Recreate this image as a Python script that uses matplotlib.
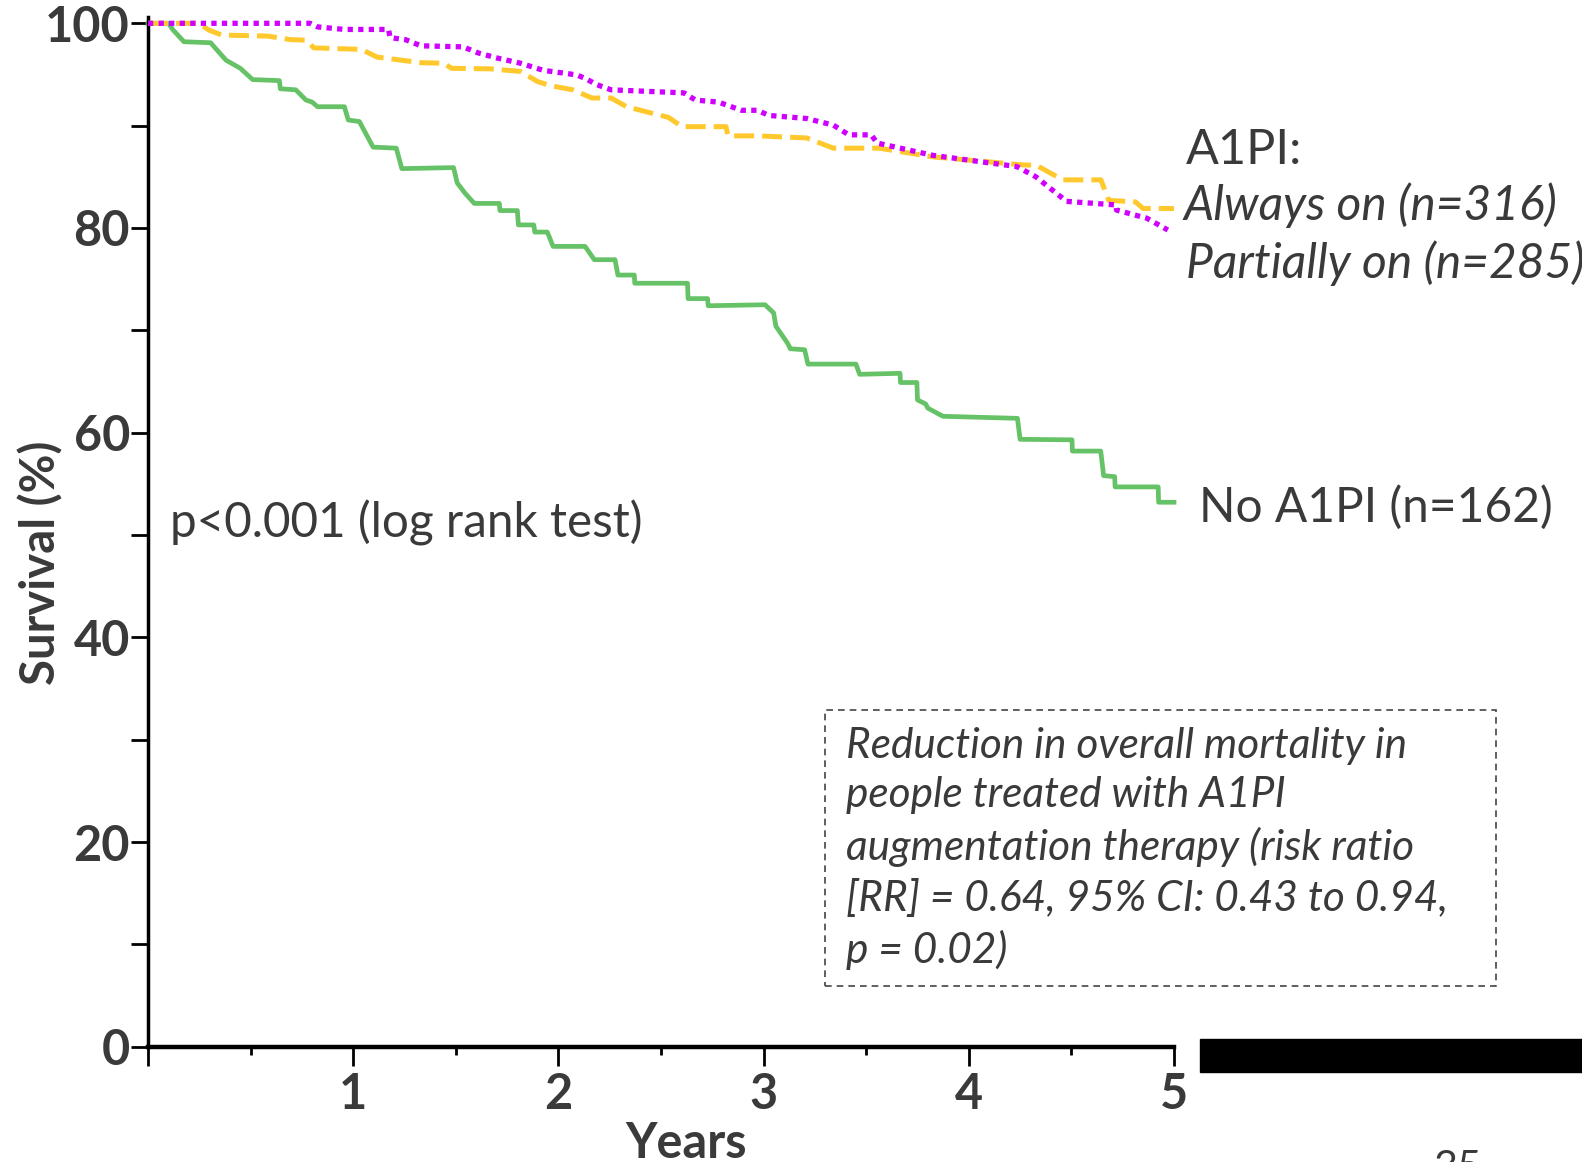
import matplotlib
matplotlib.use('Agg')
import matplotlib.pyplot as plt
from matplotlib.patches import Rectangle
from matplotlib.ticker import FixedLocator, FixedFormatter

plt.rcParams['font.family'] = ['Lato', 'DejaVu Sans']

# Kaplan-Meier curves (years, survival %)
no_t = [0, 0.10, 0.12, 0.175, 0.305, 0.38, 0.45, 0.51, 0.64, 0.645, 0.72, 0.77, 0.80, 0.826,
        0.957, 0.976, 1.03, 1.097, 1.21, 1.237, 1.489, 1.507, 1.545, 1.59, 1.712, 1.715, 1.80,
        1.805, 1.88, 1.885, 1.946, 1.974, 2.13, 2.175, 2.276, 2.29, 2.37, 2.372, 2.629, 2.632,
        2.727, 2.73, 3.007, 3.049, 3.06, 3.118, 3.13, 3.2, 3.216, 3.45, 3.468, 3.665, 3.667,
        3.747, 3.75, 3.79, 3.80, 3.874, 4.237, 4.25, 4.503, 4.505, 4.643, 4.657, 4.711, 4.713,
        4.923, 4.925, 5.0]
no_s = [100, 100, 99.4, 98.2, 98.1, 96.4, 95.6, 94.5, 94.4, 93.6, 93.5, 92.5, 92.3, 91.85,
        91.85, 90.55, 90.4, 87.9, 87.8, 85.8, 85.9, 84.4, 83.4, 82.4, 82.4, 81.7, 81.7,
        80.3, 80.3, 79.6, 79.6, 78.2, 78.2, 76.9, 76.9, 75.4, 75.4, 74.6, 74.6, 73.1,
        73.1, 72.4, 72.5, 71.7, 70.4, 68.7, 68.2, 68.1, 66.7, 66.7, 65.7, 65.8, 64.9,
        64.9, 63.2, 62.8, 62.4, 61.6, 61.4, 59.35, 59.3, 58.2, 58.2, 55.8, 55.7, 54.7,
        54.7, 53.2, 53.2]

always_t = [0, 0.249, 0.295, 0.36, 0.584, 0.696, 0.771, 0.808, 1.04, 1.116, 1.33, 1.44, 1.48,
            1.666, 1.815, 1.899, 1.963, 2.07, 2.163, 2.257, 2.332, 2.537, 2.602, 2.817, 2.826,
            2.97, 3.209, 3.34, 3.562, 3.824, 4.272, 4.327, 4.458, 4.644, 4.682, 4.812, 4.85, 5.0]
always_s = [100, 100, 99.35, 98.85, 98.75, 98.4, 98.35, 97.6, 97.45, 96.7, 96.15, 96.1, 95.6,
            95.55, 95.3, 94.3, 93.9, 93.5, 92.7, 92.7, 91.85, 90.8, 89.9, 89.9, 89.0,
            89.0, 88.8, 87.8, 87.8, 86.95, 86.15, 86.15, 84.7, 84.7, 82.7, 82.55, 81.9, 81.9]

partial_t = [0, 0.79, 0.826, 0.957, 1.172, 1.18, 1.255, 1.33, 1.535, 1.61, 1.703, 1.815, 1.927,
             2.039, 2.09, 2.132, 2.188, 2.257, 2.612, 2.668, 2.78, 2.892, 2.97, 3.025, 3.209,
             3.34, 3.415, 3.525, 3.553, 3.824, 4.234, 4.327, 4.476, 4.718, 4.72, 4.868, 4.97]
partial_s = [100, 100, 99.65, 99.4, 99.4, 98.6, 98.4, 97.8, 97.7, 97.1, 96.6, 96.1, 95.4,
             95.1, 94.95, 94.6, 94.0, 93.5, 93.2, 92.5, 92.3, 91.5, 91.5, 91.0, 90.7,
             90.05, 89.1, 89.1, 88.3, 87.1, 86.0, 85.0, 82.6, 82.25, 81.75, 80.95, 79.8]

y_ticks = [0, 10, 20, 30, 40, 50, 60, 70, 80, 90, 100]
y_labels = ['0', '', '20', '', '40', '', '60', '', '80', '', '100']
x_ticks = [0, 1, 2, 3, 4, 5]
x_labels = ['', '1', '2', '3', '4', '5']
x_minor = [0.5, 1.5, 2.5, 3.5, 4.5]

W, H = 1582, 1162
fig = plt.figure(figsize=(W / 100, H / 100), dpi=100)
ax = fig.add_axes([148 / W, 1 - 1046.7 / H, 1026 / W, 1023.4 / H])

txt = '#3a3a3a'
green = '#66c266'
yellow = '#ffc92e'
magenta = '#d000ff'

# green goes under the others (its start at 100% is hidden in the original)
ax.plot(no_t, no_s, color=green, lw=3.4, clip_on=False, zorder=2)
ax.plot(always_t, always_s, color=yellow, lw=3.6, dashes=(4, 1.6), clip_on=False, zorder=3)
ax.plot(partial_t, partial_s, color=magenta, lw=3.8, dashes=(1, 1.0), clip_on=False, zorder=4)

ax.set_xlim(0, 5)
ax.set_ylim(0, 100)

for s in ['top', 'right']:
    ax.spines[s].set_visible(False)
ax.spines['left'].set_linewidth(2.5)
ax.spines['left'].set_bounds(0, 100.6)
ax.spines['bottom'].set_linewidth(3.2)

ax.yaxis.set_major_locator(FixedLocator(y_ticks))
ax.yaxis.set_major_formatter(FixedFormatter(y_labels))
ax.xaxis.set_major_locator(FixedLocator(x_ticks))
ax.xaxis.set_major_formatter(FixedFormatter(x_labels))
ax.xaxis.set_minor_locator(FixedLocator(x_minor))

ax.tick_params(axis='y', length=12, width=2, pad=1, labelsize=35, labelcolor=txt)
ax.tick_params(axis='x', which='major', length=14, width=2, pad=4, labelsize=35, labelcolor=txt)
ax.tick_params(axis='x', which='minor', length=6, width=2)
for lab in ax.get_xticklabels() + ax.get_yticklabels():
    lab.set_fontweight('bold')

fig.text(41 / W, 1 - 563 / H, 'Survival (%)', rotation=90, ha='center', va='center',
         fontsize=34, fontweight='bold', color=txt)
fig.text(686 / W, 1 - 1158 / H, 'Years', ha='center', va='baseline',
         fontsize=35, fontweight='bold', color=txt)

fig.text(170 / W, 1 - 537 / H, 'p<0.001 (log rank test)', ha='left', va='baseline',
         fontsize=34.3, color=txt)

fig.text(1186 / W, 1 - 164 / H, 'A1PI:', ha='left', va='baseline', fontsize=35, color=txt)
fig.text(1184 / W, 1 - 220 / H, 'Always on (n=316)', ha='left', va='baseline',
         fontsize=34.5, style='italic', color=txt)
fig.text(1186 / W, 1 - 278 / H, 'Partially on (n=285)', ha='left', va='baseline',
         fontsize=34.5, style='italic', color=txt)
fig.text(1199 / W, 1 - 522 / H, 'No A1PI (n=162)', ha='left', va='baseline',
         fontsize=34.5, color=txt)

box_text = ('Reduction in overall mortality in\n'
            'people treated with A1PI\n'
            'augmentation therapy (risk ratio\n'
            '[RR] = 0.64, 95% CI: 0.43 to 0.94,\n'
            'p = 0.02)')
# baseline alignment of a multi-line text uses its last line
fig.text(846 / W, 1 - 963 / H, box_text, ha='left', va='baseline', fontsize=30.5,
         style='italic', color=txt, linespacing=1.37)
fig.patches.append(Rectangle((825 / W, 1 - 986 / H), (1496 - 825) / W, (986 - 710) / H,
                             transform=fig.transFigure, fill=False, ec='#444444',
                             lw=1.2, ls=(0, (4, 3))))

# black bar and slide number at bottom right
fig.patches.append(Rectangle((1200 / W, 1 - 1072 / H), (W - 1200) / W, 33 / H,
                             transform=fig.transFigure, color='black'))
fig.text(1433 / W, 1 - 1150 / H, '35', ha='left', va='top', fontsize=30, color=txt)

fig.savefig('out.png', dpi=100)
